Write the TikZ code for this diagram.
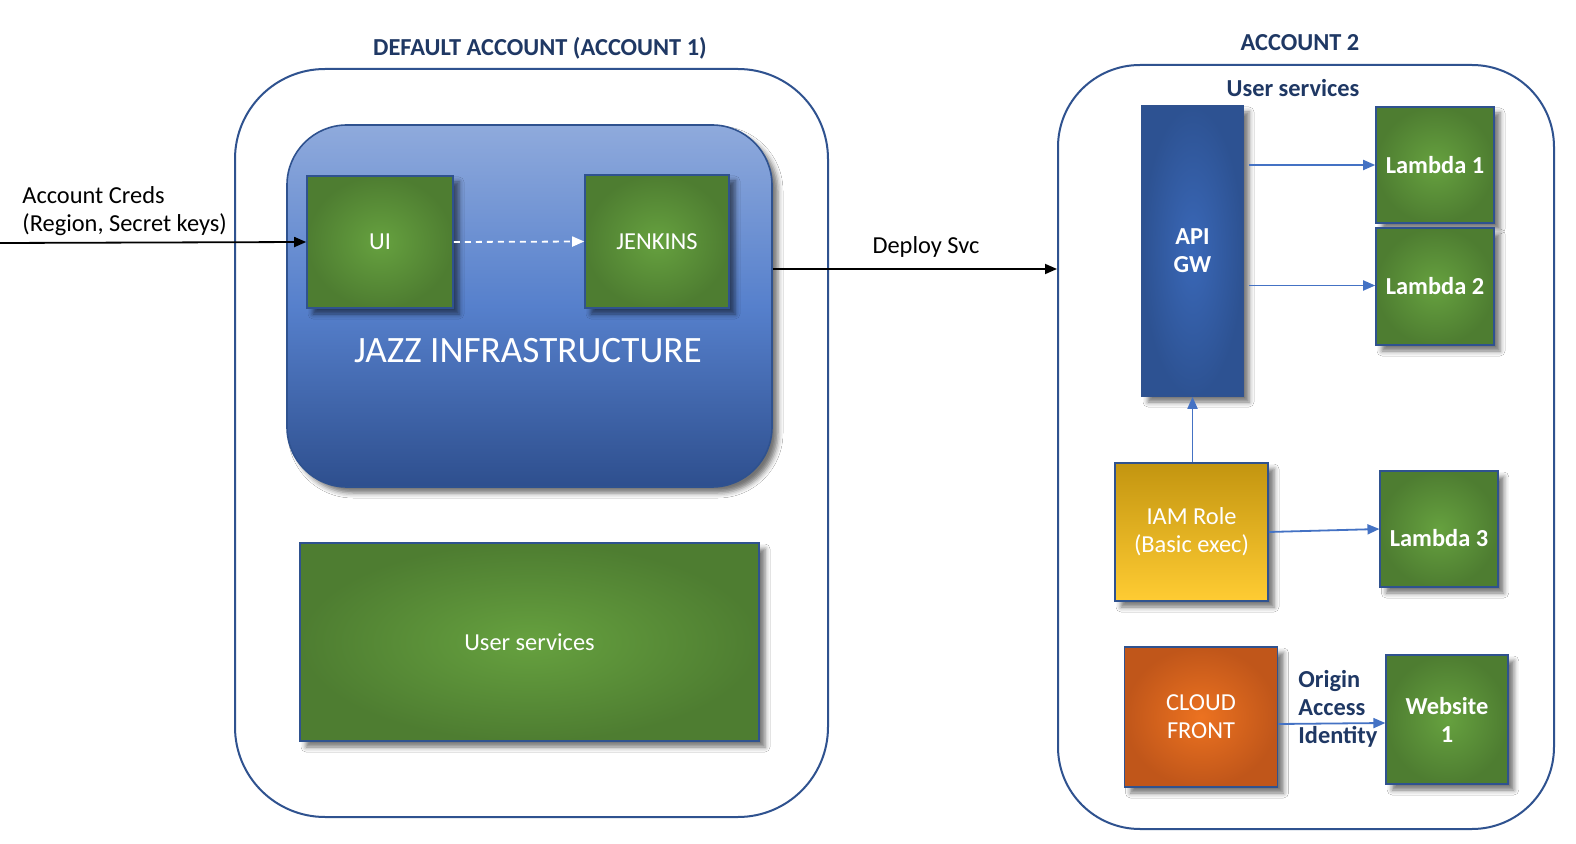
\documentclass[tikz,border=0pt]{standalone}
\usepackage{fontspec}
\setmainfont{Carlito}
\usetikzlibrary{arrows.meta,shadows.blur,calc}
\definecolor{navy}{HTML}{1F3864}
\definecolor{edge}{HTML}{2F528F}
\definecolor{gin}{HTML}{66A13F}
\definecolor{gout}{HTML}{4E7D31}
\definecolor{bin}{HTML}{3A68B8}
\definecolor{bout}{HTML}{2D5292}
\definecolor{jtop}{HTML}{8FAADC}
\definecolor{jmid}{HTML}{5680CC}
\definecolor{jbot}{HTML}{2E4F8E}
\definecolor{iamtop}{HTML}{C39510}
\definecolor{iambot}{HTML}{FFCC33}
\definecolor{cfin}{HTML}{EC7220}
\definecolor{cfout}{HTML}{C0561A}
\definecolor{arrowblue}{HTML}{4472C4}
\begin{document}
\begin{tikzpicture}[x=0.5pt,y=-0.5pt,
  every node/.style={font=\fontsize{12.2}{14}\selectfont},
  softshadow/.style={blur shadow={shadow xshift=3pt,shadow yshift=-3pt,shadow blur radius=2.5pt,shadow opacity=55}},
  gbox/.style={draw=edge,line width=0.8pt,shading=radial,inner color=gin,outer color=gout,text=white,inner sep=0pt,align=center,softshadow},
  container/.style={draw=edge,line width=1pt,inner sep=0pt},
  ttl/.style={text=navy,font=\bfseries\fontsize{12.2}{14}\selectfont},
  bfw/.style={font=\bfseries\fontsize{12.2}{14}\selectfont},
  barrow/.style={draw=arrowblue,line width=0.9pt,-{Triangle[length=6pt,width=5pt]}},
  karrow/.style={draw=black,line width=0.9pt,-{Triangle[length=6pt,width=5pt]}},
]
\fill[white] (0,0) rectangle (1576,844);
\useasboundingbox (0,0) rectangle (1576,844);

% containers and titles
\node[container,rounded corners=45pt,minimum width=296.5pt,minimum height=374pt] (acc1) at (531.5,443) {};
\node[container,rounded corners=41pt,minimum width=248pt,minimum height=382pt] (acc2) at (1306,447) {};
\node[ttl] (t1) at (540,48) {DEFAULT ACCOUNT (ACCOUNT 1)};
\node[ttl] (t2) at (1300,43) {ACCOUNT 2};
\node[ttl] (t3) at (1293,88) {User services};

% account 1
\node[draw=edge,line width=0.8pt,rounded corners=30pt,minimum width=242.5pt,minimum height=181pt,
      top color=jtop,bottom color=jbot,middle color=jmid,softshadow] (jazz) at (529.5,306) {};
\node[text=white,font=\fontsize{18.6}{20}\selectfont] (jt) at (528,351) {JAZZ INFRASTRUCTURE};
\node[gbox,minimum width=73pt,minimum height=66pt] (ui) at (380,242) {UI};
\node[gbox,minimum width=72pt,minimum height=66.5pt] (jen) at (657,241.5) {JENKINS};
\node[gbox,minimum width=229.5pt,minimum height=99pt] (us) at (529.5,642) {User services};

% account 2
\node[gbox,inner color=bin,outer color=bout,bfw,minimum width=50.5pt,minimum height=145pt] (api) at (1192.5,251) {API\\GW};
\node[gbox,bfw,minimum width=59pt,minimum height=58pt] (l1) at (1435,165) {Lambda 1};
\node[gbox,bfw,minimum width=59pt,minimum height=58.5pt] (l2) at (1435,286.5) {Lambda 2};
\node[gbox,top color=iamtop,bottom color=iambot,minimum width=76.5pt,minimum height=69pt] (iam) at (1191.5,532) {IAM Role\\(Basic exec)};
\node[gbox,bfw,minimum width=58.75pt,minimum height=58pt,text height=18pt,text depth=0pt] (l3) at (1439,529) {Lambda 3};
\node[gbox,inner color=cfin,outer color=cfout,minimum width=76.5pt,minimum height=70pt] (cf) at (1201,717) {CLOUD\\FRONT};
\node[gbox,bfw,minimum width=60.8pt,minimum height=64.5pt] (web) at (1447,719.5) {Website\\1};

% labels
\node[align=left,anchor=west,inner sep=0pt] (cred) at (22,211) {Account Creds\\(Region, Secret keys)};
\node (dep) at (926,247) {Deploy Svc};
\node[ttl,align=left,anchor=west,inner sep=0pt] (oai) at (1298,709) {Origin\\Access\\Identity};

% connectors
\coordinate (src) at (0,243);
\draw[karrow] (src) -- (ui.west);
\draw[white,line width=0.9pt,dash pattern=on 3pt off 2.5pt,-{Triangle[length=6pt,width=5pt]}] (ui.east) -- (jen.west);
\draw[karrow] (jazz.east |- 0,269) -- (acc2.west |- 0,269);
\draw[barrow] ($(api.east |- l1.west)+(5,0)$) -- (l1.west);
\draw[barrow] ($(api.east |- l2.west)+(5,-1)$) -- ($(l2.west)+(0,-1)$);
\draw[barrow] (iam.north -| api.south) -- (api.south);
\draw[barrow] (iam.east) -- (l3.west);
\draw[barrow] ($(cf.east)+(0,7)$) -- ($(web.west)+(0,3.5)$);
\end{tikzpicture}
\end{document}
